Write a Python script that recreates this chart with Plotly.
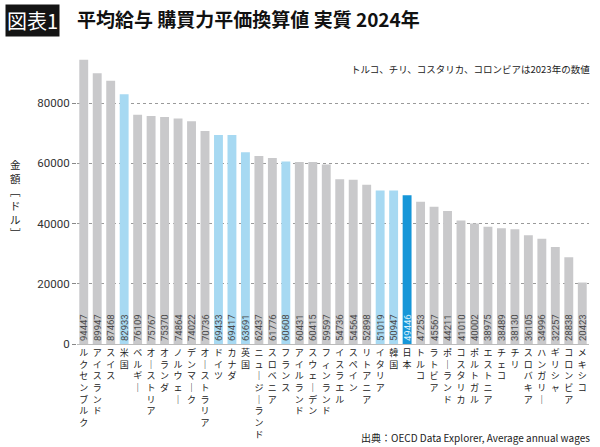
import plotly.graph_objects as go

countries = ["ルクセンブルク", "アイスランド", "スイス", "米国", "ベルギー", "オーストリア", "オランダ",
             "ノルウェー", "デンマーク", "オーストラリア", "ドイツ", "カナダ", "英国", "ニュージーランド",
             "スロベニア", "フランス", "アイルランド", "スウェーデン", "フィンランド", "イスラエル",
             "スペイン", "リトアニア", "イタリア", "韓国", "日本", "トルコ", "ラトビア", "ポーランド",
             "コスタリカ", "ポルトガル", "エストニア", "チェコ", "チリ", "スロバキア", "ハンガリー",
             "ギリシャ", "コロンビア", "メキシコ"]
wages = [94447, 89947, 87468, 82933, 76109, 75767, 75370, 74864, 74022, 70736, 69433, 69417,
         63691, 62437, 61776, 60608, 60431, 60415, 59597, 54736, 54564, 52898, 51019, 50947,
         49446, 47253, 45567, 44211, 41010, 40002, 38975, 38489, 38130, 36105, 34996, 32257,
         28838, 20423]
g7_korea = ["米国", "ドイツ", "カナダ", "英国", "フランス", "イタリア", "韓国"]
japan = "日本"
y_ticks = [0, 20000, 40000, 60000, 80000]

GRAY = "#c9c9cb"
LIGHT = "#a7d9f2"
DARK = "#1696d8"

colors = [DARK if c == japan else (LIGHT if c in g7_korea else GRAY) for c in countries]
txtcolors = ["#d8f0fb" if c == japan else "#4a4a4a" for c in countries]


def vertical(s):
    return "<br>".join(ch if ch != "ー" else "｜" for ch in s)


FONT = "Noto Sans CJK JP"

fig = go.Figure()
fig.add_trace(go.Bar(
    x=countries, y=wages, marker=dict(color=colors, line=dict(width=0)),
    text=[str(v) for v in wages], textposition="inside", insidetextanchor="start",
    textangle=-90, textfont=dict(size=9.5, color=txtcolors, family="Roboto"),
    hoverinfo="x+y", cliponaxis=False,
))

fig.update_layout(
    width=600, height=447,
    margin=dict(l=77, r=11, t=58, b=103, autoexpand=False),
    paper_bgcolor="white", plot_bgcolor="white",
    bargap=0.34, showlegend=False,
    uniformtext=dict(minsize=9, mode="show"),
    font=dict(family=FONT, color="#222"),
    xaxis=dict(tickvals=countries, ticktext=[vertical(c) for c in countries],
               tickangle=0, tickfont=dict(size=9, color="#222", family=FONT),
               showgrid=False, showline=True, linecolor="#bbbbbb", linewidth=1,
               ticks="", range=[-0.5, len(countries) - 0.5], automargin=False),
    yaxis=dict(range=[0, 95000], tickvals=y_ticks, ticktext=[str(v) for v in y_ticks],
               tickfont=dict(size=11.5, color="#333", family="Roboto"),
               showgrid=True, gridcolor="#9a9a9a", griddash="dot", gridwidth=1,
               ticks="outside", ticklen=4, tickcolor="#888", zeroline=False,
               showline=False, automargin=False),
    annotations=[
        dict(text="図表1", x=6, y=6, xref="paper", yref="paper", xanchor="left", yanchor="top",
             showarrow=False, font=dict(size=20, color="white", family=FONT), bgcolor="#141414",
             borderpad=1),
        dict(text="<b>平均給与 購買力平価換算値 実質 2024年</b>", x=0, y=0, showarrow=False,
             xref="paper", yref="paper", xanchor="left", yanchor="top",
             font=dict(size=19, color="#111", family=FONT)),
        dict(text="トルコ、チリ、コスタリカ、コロンビアは2023年の数値", x=1, y=1, xref="paper",
             yref="paper", xanchor="right", yanchor="middle", showarrow=False,
             font=dict(size=9.5, color="#222", family=FONT)),
        dict(text="金<br>額<br>﹇<br>ド<br>ル<br>﹈", x=0, y=0, xref="paper", yref="paper",
             showarrow=False, font=dict(size=10.5, color="#222", family=FONT)),
        dict(text="出典：OECD Data Explorer, Average annual wages", x=1, y=0, xref="paper",
             yref="paper", xanchor="right", yanchor="middle", showarrow=False,
             font=dict(size=10, color="#222", family=FONT)),
    ],
)

W, H = 600, 447
ml, mr, mt, mb = 77, 11, 58, 103
pw, ph = W - ml - mr, H - mt - mb


def px(x):
    return (x - ml) / pw


def py(y):
    return (H - mb - y) / ph


ann = list(fig.layout.annotations)
ann[0].update(x=px(5), y=py(4))
ann[1].update(x=px(75), y=py(3))
ann[2].update(x=px(592), y=py(69))
ann[3].update(x=px(15), y=py(198), xanchor="center", yanchor="middle")
ann[4].update(x=px(592), y=py(437))
fig.update_layout(annotations=ann)

fig.write_html("out.html")
